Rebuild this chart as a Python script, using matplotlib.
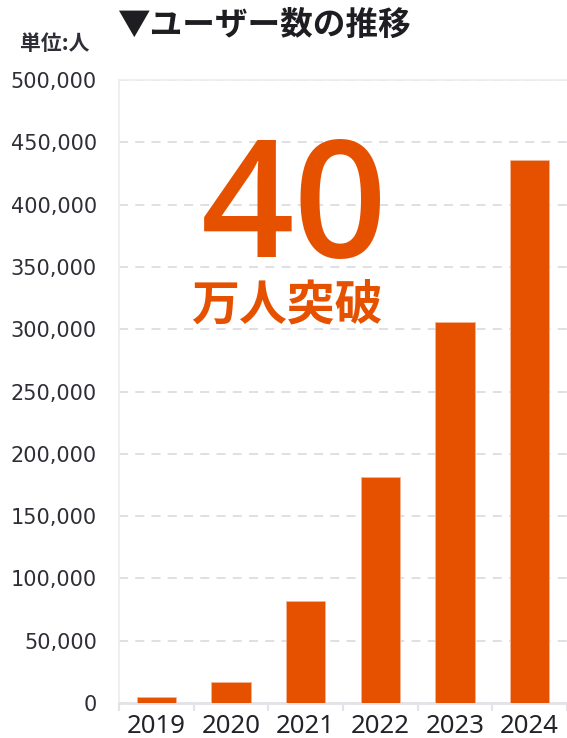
import matplotlib
matplotlib.use("Agg")
import matplotlib.pyplot as plt
from matplotlib.ticker import FixedLocator, FuncFormatter

plt.rcParams['font.family'] = ['Noto Sans CJK JP', 'DejaVu Sans']

years = ["2019", "2020", "2021", "2022", "2023", "2024"]
users = [4500, 17000, 82000, 181000, 306000, 436000]
y_ticks = [0, 50000, 100000, 150000, 200000, 250000, 300000, 350000, 400000, 450000, 500000]

title = "▼ユーザー数の推移"
unit_label = "単位:人"
headline_number = "40"
headline_text = "万人突破"

ORANGE = "#e65100"
GRID = "#dcdce4"
AXIS = "#e2e2e8"
TEXT = "#2e2e36"

W, H = 567, 738
fig = plt.figure(figsize=(W / 100, H / 100), dpi=100)
fig.patch.set_facecolor("white")

def fx(px):
    return px / W

def fy(py):
    return 1 - py / H

ax = fig.add_axes([fx(119), fy(703), fx(567) - fx(119), fy(80) - fy(703)])

x = list(range(len(years)))
ax.bar(x, users, width=0.53, color=ORANGE, edgecolor="#f3b49a", linewidth=0.6, zorder=3)

ax.set_xlim(-0.5, len(years) - 0.5)
ax.set_ylim(0, 500000)

ax.yaxis.set_major_locator(FixedLocator(y_ticks))
ax.yaxis.set_major_formatter(FuncFormatter(lambda v, p: f"{int(v):,}"))
ax.tick_params(axis="y", length=0, pad=16, labelcolor=TEXT)
for lbl in ax.get_yticklabels():
    lbl.set_family("DejaVu Sans")
    lbl.set_fontsize(15)

ax.set_xticks(x)
ax.set_xticklabels(years)
ax.tick_params(axis="x", which="major", length=0, pad=8, labelcolor="#222228")
for lbl in ax.get_xticklabels():
    lbl.set_family("Noto Sans")
    lbl.set_fontsize(18.5)
ax.set_xticks([i - 0.5 for i in range(len(years) + 1)], minor=True)
ax.tick_params(axis="x", which="minor", length=6, width=1.5, color=AXIS, direction="out")

ax.grid(axis="y", color=GRID, linestyle=(0, (5, 4)), linewidth=1.3, zorder=0)
ax.grid(axis="x", visible=False)

ax.spines["right"].set_visible(False)
ax.spines["left"].set_color("#ececf0")
ax.spines["left"].set_linewidth(1.2)
ax.spines["top"].set_color("#ececf0")
ax.spines["top"].set_linewidth(1.2)
ax.spines["bottom"].set_color(AXIS)
ax.spines["bottom"].set_linewidth(2)

fig.text(fx(117), fy(25), title, fontsize=23.5, fontweight="bold", color="#1e1e22",
         ha="left", va="center")
fig.text(fx(55), fy(43), unit_label, fontsize=15, fontweight="bold", color=TEXT,
         ha="center", va="center")

fig.text(fx(294), fy(257), headline_number, family=["Open Sans", "Noto Sans", "DejaVu Sans"],
         fontsize=118, fontweight="semibold", color=ORANGE, ha="center", va="baseline", zorder=4)
fig.text(fx(287), fy(305), headline_text, fontsize=34.5, fontweight="bold", color=ORANGE,
         ha="center", va="center")

fig.savefig("out.png", dpi=100, facecolor="white")
